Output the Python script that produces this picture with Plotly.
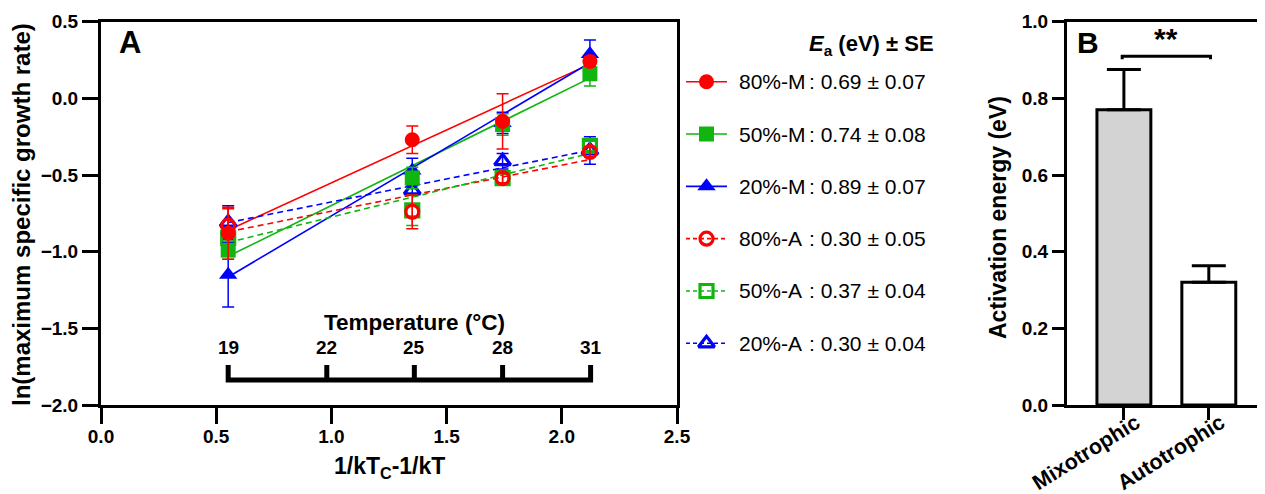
import plotly.graph_objects as go

# ---------------- Panel A data ----------------
x_vals = [0.552, 1.351, 1.743, 2.122]          # 1/kTc - 1/kT at 19, 25, 28, 31 °C
series_names = ["80%-M", "50%-M", "20%-M", "80%-A", "50%-A", "20%-A"]
y_80M = [-0.88, -0.27, -0.15, 0.24]
y_50M = [-0.99, -0.52, -0.17, 0.16]
y_20M = [-1.15, -0.47, -0.16, 0.29]
y_80A = [-0.83, -0.74, -0.52, -0.35]
y_50A = [-0.91, -0.73, -0.52, -0.31]
y_20A = [-0.81, -0.60, -0.41, -0.34]
se_80M = [0.17, 0.09, 0.18, 0.03]
se_50M = [0.06, 0.07, 0.07, 0.08]
se_20M = [0.21, 0.08, 0.07, 0.09]
se_80A = [0.11, 0.11, 0.03, 0.03]
se_50A = [0.05, 0.10, 0.03, 0.03]
se_20A = [0.11, 0.03, 0.05, 0.09]
ea_vals = [0.69, 0.74, 0.89, 0.30, 0.37, 0.30]   # fitted slopes (eV)
ea_se = [0.07, 0.08, 0.07, 0.05, 0.04, 0.04]
fit_at_19 = [-0.86, -1.03, -1.165, -0.87, -0.94, -0.81]  # fitted value at first x
temps = [19, 22, 25, 28, 31]
temp_x = [0.552, 0.98, 1.36, 1.743, 2.125]

# ---------------- Panel B data ----------------
b_categories = ["Mixotrophic", "Autotrophic"]
b_means = [0.77, 0.32]
b_err = [0.105, 0.043]

# ---------------- styling ----------------
OFF = 8                      # default page body margin
W, H = 1265 - OFF, 494 - OFF
FONT = "Liberation Sans, Arial, Helvetica, sans-serif"
RED, GREEN, BLUE = "#ff0000", "#10b510", "#0000ff"
colors = [RED, GREEN, BLUE, RED, GREEN, BLUE]
symbols = ["circle", "square", "triangle-up", "circle-open", "square-open", "triangle-up-open"]
msizes = [15, 15, 16, 13, 13, 14]
dashes = ["solid", "solid", "solid", "6px,4px", "6px,4px", "6px,4px"]
ys = [y_80M, y_50M, y_20M, y_80A, y_50A, y_20A]
ses = [se_80M, se_50M, se_20M, se_80A, se_50A, se_20A]


def px(x):
    return (x - OFF) / W


def py(y):
    return 1 - (y - OFF) / H


fig = go.Figure()

# fitted lines
for i in range(6):
    x0, x1 = x_vals[0], x_vals[-1]
    y0 = fit_at_19[i]
    y1 = y0 + ea_vals[i] * (x1 - x0)
    fig.add_trace(go.Scatter(
        x=[x0, x1], y=[y0, y1], mode="lines",
        line=dict(color=colors[i], width=1.6, dash=dashes[i]),
        showlegend=False, hoverinfo="skip", xaxis="x", yaxis="y"))

# data points (autotrophic first, red last so it sits on top)
for i in [5, 4, 3, 2, 1, 0]:
    open_sym = symbols[i].endswith("open")
    fig.add_trace(go.Scatter(
        x=x_vals, y=ys[i], mode="markers", name=series_names[i],
        marker=dict(symbol=symbols[i], size=msizes[i], color=colors[i],
                    line=dict(width=3.2 if open_sym else 0, color=colors[i])),
        error_y=dict(type="data", array=ses[i], color=colors[i], thickness=1.5, width=6),
        showlegend=False, xaxis="x", yaxis="y"))

# manual legend (line sample + marker)
for i in range(6):
    fig.add_trace(go.Scatter(
        x=[0, 1], y=[i, i], mode="lines",
        line=dict(color=colors[i], width=1.6, dash="4px,3px" if i >= 3 else "solid"),
        showlegend=False, hoverinfo="skip", xaxis="x3", yaxis="y3"))
    open_sym = symbols[i].endswith("open")
    fig.add_trace(go.Scatter(
        x=[0.5], y=[i], mode="markers",
        marker=dict(symbol=symbols[i], size=msizes[i], color=colors[i],
                    line=dict(width=3.2 if open_sym else 0, color=colors[i])),
        showlegend=False, hoverinfo="skip", xaxis="x3", yaxis="y3"))

# panel B bars
fig.add_trace(go.Bar(
    x=b_categories, y=b_means, width=0.635,
    marker=dict(color=["#d3d3d3", "#ffffff"], line=dict(color="black", width=3)),
    error_y=dict(type="data", array=b_err, arrayminus=[0, 0], symmetric=False,
                 color="black", thickness=3, width=17),
    showlegend=False, xaxis="x2", yaxis="y2"))

axis_common = dict(showline=True, linecolor="black", linewidth=3, mirror=True,
                   ticks="outside", tickcolor="black", tickwidth=3,
                   showgrid=False, zeroline=False, automargin=False)
tickfont_std = dict(family=FONT, size=19, color="black", weight="bold")

fig.update_layout(
    width=W, height=H, margin=dict(l=0, r=0, t=0, b=0, autoexpand=False),
    paper_bgcolor="white", plot_bgcolor="white",
    font=dict(family=FONT, color="black"),
    xaxis=dict(domain=[px(101), px(677)], range=[0, 2.5], tickvals=[0, 0.5, 1, 1.5, 2, 2.5],
               tickformat=".1f", ticklen=16, ticklabelstandoff=-4, anchor="y",
               tickfont=tickfont_std, **axis_common),
    yaxis=dict(domain=[py(405), py(21.7)], range=[-2.0, 0.5],
               tickvals=[-2, -1.5, -1, -0.5, 0, 0.5], tickformat=".1f", ticklen=16,
               anchor="x", tickfont=tickfont_std, **axis_common),
    xaxis2=dict(domain=[px(1067), px(1264)], range=[-0.67, 1.65], ticklen=12,
                tickangle=-32, ticklabelshift=12, ticklabelstandoff=-18,
                anchor="y2", tickfont=dict(family=FONT, size=21.5, color="black", weight="bold"),
                **axis_common),
    yaxis2=dict(domain=[py(405), py(21.7)], range=[0, 1.0], dtick=0.2, tickformat=".1f",
                ticklen=12, anchor="x2", tickfont=tickfont_std, **axis_common),
    xaxis3=dict(domain=[px(686), px(727)], range=[0, 1], visible=False, anchor="y3",
                automargin=False),
    yaxis3=dict(domain=[py(343.3 + 26.17), py(81.7 - 26.17)], range=[5.5, -0.5],
                visible=False, anchor="x3", automargin=False),
)


def ann(**kw):
    d = dict(showarrow=False, xanchor="center", yanchor="middle")
    d.update(kw)
    return d


annotations = []
# axis titles
annotations.append(ann(text="<b>ln(maximum specific growth rate)</b>", textangle=-90,
                       x=px(21), y=py(215), xref="paper", yref="paper",
                       font=dict(family=FONT, size=24, color="black")))
annotations.append(ann(text="<b>1/kT<sub>C</sub>-1/kT</b>", x=px(389), y=py(467),
                       xref="paper", yref="paper",
                       font=dict(family=FONT, size=23, color="black")))
annotations.append(ann(text="<b>Activation energy (eV)</b>", textangle=-90,
                       x=px(998), y=py(218), xref="paper", yref="paper",
                       font=dict(family=FONT, size=23, color="black")))
# panel letters
annotations.append(ann(text="<b>A</b>", x=px(130), y=py(43), xref="paper", yref="paper",
                       font=dict(family=FONT, size=31, color="black")))
annotations.append(ann(text="<b>B</b>", x=px(1088), y=py(43), xref="paper", yref="paper",
                       font=dict(family=FONT, size=30, color="black")))
annotations.append(ann(text="<b>**</b>", x=0.5, y=0.956, xref="x2", yref="y2",
                       font=dict(family=FONT, size=30, color="black")))
# legend title and entries
annotations.append(ann(text="<b><i>E</i><sub>a</sub> (eV) ± SE</b>", x=px(936), y=py(45),
                       xref="paper", yref="paper", xanchor="right",
                       font=dict(family=FONT, size=22, color="black")))
for i in range(6):
    annotations.append(ann(text=series_names[i], x=px(737), y=i, xref="paper", yref="y3",
                           xanchor="left", font=dict(family=FONT, size=21, color="black")))
    annotations.append(ann(text=": %.2f ± %.2f" % (ea_vals[i], ea_se[i]), x=px(806.5), y=i,
                           xref="paper", yref="y3", xanchor="left",
                           font=dict(family=FONT, size=21, color="black")))
# temperature scale labels
annotations.append(ann(text="<b>Temperature (°C)</b>", x=1.36, y=-1.465, xref="x", yref="y",
                       font=dict(family=FONT, size=22.5, color="black")))
for t, tx in zip(temps, temp_x):
    annotations.append(ann(text="<b>%d</b>" % t, x=tx, y=-1.628, xref="x", yref="y",
                           font=dict(family=FONT, size=19, color="black")))

shapes = []
# temperature scale bar
shapes.append(dict(type="path", xref="x", yref="y",
                   path="M %f,%f L %f,%f L %f,%f L %f,%f" % (
                       temp_x[0], -1.739, temp_x[0], -1.837, temp_x[-1], -1.837, temp_x[-1], -1.739),
                   line=dict(color="black", width=5)))
for tx in temp_x[1:-1]:
    shapes.append(dict(type="line", xref="x", yref="y", x0=tx, x1=tx, y0=-1.837, y1=-1.739,
                       line=dict(color="black", width=5)))
# significance bracket
shapes.append(dict(type="path", xref="x2", yref="y2",
                   path="M -0.02,0.902 L -0.02,0.91 L 1.02,0.91 L 1.02,0.902",
                   line=dict(color="black", width=3)))

fig.update_layout(annotations=annotations, shapes=shapes)
fig.write_html("out.html")
